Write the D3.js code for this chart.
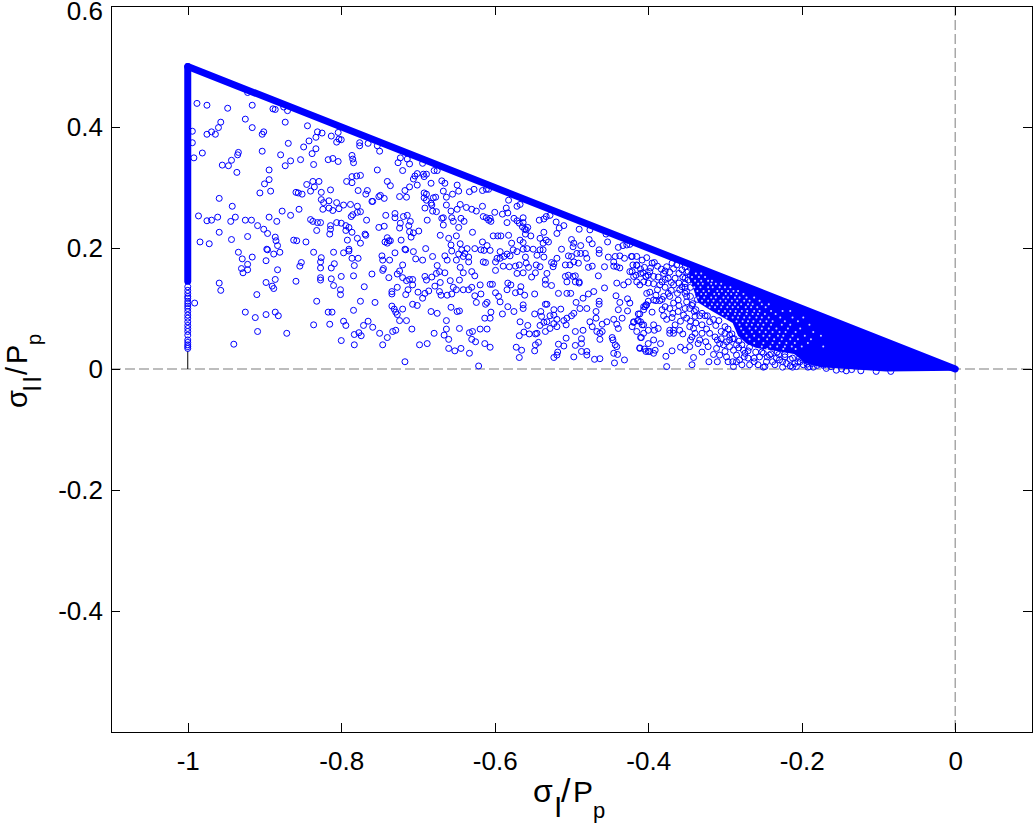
<!DOCTYPE html>
<html>
<head>
<meta charset="utf-8">
<script src="https://cdn.jsdelivr.net/npm/d3@7"></script>
<style>
	html, body { margin: 0; padding: 0; background: #fff; }
	svg { display: block; }
	text { font-family: "Liberation Sans", Arial, sans-serif; fill: #000; }
	.axis path, .axis line { stroke: #000; stroke-width: 1; shape-rendering: crispEdges; }
	.axis text { font-size: 26px; }
</style>
</head>
<body>
<div id="chart"></div>
<script>
var xTicks = [-1, -0.8, -0.6, -0.4, -0.2, 0];
var yTicks = [0.6, 0.4, 0.2, 0, -0.2, -0.4];

// the two edges where the markers pile up into a solid band
var edgeTop = [[-1, 0.5], [0, 0]];
var edgeLeft = [[-1, 0.5], [-1, 0.145]];
var stemLeft = [[-1, 0.03], [-1, 0]];

// markers along sigma_I = -1, lower end
var leftColumn = [0.136, 0.13, 0.125, 0.12, 0.117, 0.112, 0.108, 0.104, 0.100, 0.095, 0.089, 0.084, 0.078, 0.072, 0.067, 0.062, 0.056, 0.048, 0.044, 0.040, 0.037, 0.034];

// outline of the saturated area near the tip
var solidArea = [[-0.345, 0.1725], [0.002, 0], [0, -0.003], [-0.09, -0.004], [-0.15, 0.001], [-0.175, 0.003], [-0.195, 0.01], [-0.21, 0.025], [-0.235, 0.03], [-0.26, 0.035], [-0.272, 0.042], [-0.283, 0.055], [-0.29, 0.076], [-0.32, 0.098], [-0.335, 0.11], [-0.342, 0.135], [-0.347, 0.15]];

var leftPoints = [
	[-.988,.439],[-.975,.436],[-.948,.431],[-.916,.436],[-.889,.430],[-.886,.429],[-.875,.433],[-.870,.427],[-.922,.457],[-.925,.413],
	[-.957,.408],[-.960,.399],[-.969,.392],[-.975,.388],[-.964,.388],[-.994,.393],[-.994,.374],[-.916,.399],[-.901,.392],[-.903,.388],
	[-.873,.408],[-.844,.402],[-.831,.392],[-.825,.390],[-.833,.383],[-.842,.377],[-.869,.373],[-.849,.367],[-.833,.364],[-.838,.356],
	[-.903,.360],[-.879,.354],[-.866,.344],[-.853,.346],[-.873,.336],[-.836,.338],[-.817,.346],[-.811,.348],[-.804,.343],[-.813,.385],
	[-.804,.391],[-.803,.380],[-.806,.375],[-.800,.379],[-.776,.374],[-.776,.369],[-.765,.373],[-.753,.369],[-.750,.360],[-.786,.353],
	[-.785,.347],[-.784,.341],[-.753,.329],[-.723,.349],[-.714,.347],[-.726,.341],[-.711,.339],[-.720,.328],[-.701,.323],[-.704,.319],
	[-.706,.314],[-.701,.304],[-.711,.301],[-.717,.295],[-.724,.285],[-.715,.284],[-.992,.349],[-.981,.357],[-.934,.358],[-.935,.354],
	[-.943,.345],[-.955,.337],[-.947,.336],[-.936,.325],[-.894,.329],[-.894,.313],[-.900,.306],[-.906,.291],[-.892,.294],[-.959,.282],
	[-.942,.269],[-.845,.305],[-.837,.310],[-.829,.310],[-.835,.301],[-.840,.294],[-.859,.292],[-.856,.291],[-.851,.289],[-.826,.292],
	[-.814,.296],[-.793,.310],[-.786,.318],[-.786,.308],[-.780,.319],[-.775,.320],[-.778,.295],[-.766,.295],[-.768,.289],[-.760,.277],
	[-.759,.277],[-.751,.285],[-.749,.287],[-.744,.282],[-.740,.310],[-.736,.303],[-.826,.280],[-.823,.275],[-.816,.278],[-.806,.275],
	[-.824,.264],[-.816,.266],[-.811,.262],[-.803,.265],[-.797,.271],[-.788,.272],[-.779,.269],[-.775,.260],[-.779,.259],[-.785,.255],
	[-.787,.252],[-.767,.246],[-.742,.254],[-.730,.257],[-.730,.250],[-.719,.252],[-.714,.254],[-.723,.241],[-.710,.244],[-.724,.233],
	[-.712,.237],[-.711,.227],[-.706,.225],[-.699,.228],[-.709,.218],[-.986,.253],[-.975,.245],[-.969,.246],[-.961,.251],[-.944,.244],
	[-.938,.251],[-.925,.246],[-.917,.246],[-.909,.237],[-.901,.231],[-.896,.224],[-.894,.251],[-.884,.244],[-.877,.261],[-.866,.254],
	[-.855,.264],[-.840,.247],[-.837,.244],[-.831,.242],[-.827,.242],[-.832,.229],[-.814,.237],[-.814,.231],[-.815,.223],[-.806,.242],
	[-.800,.241],[-.794,.237],[-.790,.234],[-.794,.229],[-.786,.226],[-.779,.216],[-.775,.208],[-.769,.223],[-.768,.221],[-.792,.213],
	[-.751,.234],[-.744,.236],[-.959,.226],[-.922,.219],[-.943,.214],[-.984,.210],[-.972,.207],[-.886,.218],[-.885,.212],[-.883,.204],
	[-.862,.213],[-.858,.212],[-.846,.210],[-.934,.193],[-.929,.182],[-.916,.185],[-.922,.173],[-.930,.166],[-.922,.164],[-.928,.159],
	[-.898,.179],[-.897,.198],[-.896,.197],[-.888,.190],[-.880,.193],[-.836,.193],[-.826,.184],[-.827,.177],[-.827,.167],[-.810,.193],
	[-.797,.192],[-.790,.198],[-.790,.195],[-.786,.183],[-.778,.183],[-.783,.171],[-.813,.167],[-.809,.174],[-.852,.176],[-.854,.170],
	[-.883,.164],[-.743,.210],[-.738,.212],[-.740,.217],[-.736,.212],[-.740,.208],[-.722,.213],[-.717,.198],[-.716,.197],[-.706,.194],
	[-.703,.182],[-.730,.192],[-.747,.187],[-.746,.180],[-.737,.180],[-.720,.172],[-.745,.166],[-.746,.163],[-.760,.157],[-.738,.151],
	[-.784,.154],[-.800,.153],[-.724,.162],[-.727,.157],[-.720,.151],[-.715,.146],[-.711,.148],[-.707,.148],[-.707,.139],[-.713,.131],
	[-.716,.123],[-.727,.135],[-.734,.128],[-.734,.124],[-.700,.127],[-.770,.136],[-.813,.149],[-.827,.151],[-.827,.147],[-.810,.138],
	[-.801,.131],[-.801,.123],[-.859,.145],[-.898,.143],[-.886,.148],[-.890,.137],[-.888,.133],[-.910,.123],[-.959,.142],[-.957,.130],
	[-.991,.109],[-.925,.094],[-.912,.085],[-.898,.090],[-.886,.094],[-.882,.088],[-.832,.112],[-.817,.094],[-.812,.094],[-.784,.097],
	[-.775,.112],[-.756,.110],[-.734,.104],[-.731,.099],[-.729,.094],[-.727,.090],[-.720,.099],[-.707,.107],[-.701,.105],[-.836,.073],
	[-.815,.074],[-.797,.079],[-.794,.072],[-.771,.072],[-.765,.079],[-.759,.069],[-.750,.059],[-.740,.052],[-.733,.062],[-.729,.064],
	[-.724,.080],[-.715,.080],[-.708,.066],[-.783,.057],[-.777,.060],[-.774,.055],[-.800,.047],[-.783,.040],[-.746,.040],[-.698,.040],
	[-.717,.012],[-.871,.059],[-.909,.062],[-.940,.041]
];

var midPoints = [
	[-.694,.340],[-.679,.328],[-.675,.328],[-.693,.322],[-.689,.322],[-.692,.318],[-.683,.307],[-.669,.311],[-.665,.307],[-.649,.304],
	[-.667,.294],[-.647,.294],[-.655,.289],[-.663,.284],[-.627,.297],[-.633,.293],[-.616,.295],[-.611,.297],[-.608,.297],[-.692,.291],
	[-.689,.289],[-.692,.283],[-.689,.279],[-.683,.274],[-.680,.283],[-.677,.284],[-.682,.271],[-.691,.266],[-.681,.261],[-.676,.260],
	[-.663,.271],[-.657,.261],[-.645,.272],[-.649,.264],[-.637,.267],[-.630,.264],[-.624,.261],[-.656,.250],[-.667,.250],[-.669,.249],
	[-.667,.238],[-.654,.244],[-.644,.249],[-.640,.244],[-.647,.234],[-.688,.246],[-.616,.269],[-.615,.252],[-.611,.250],[-.608,.246],
	[-.606,.249],[-.605,.244],[-.600,.259],[-.590,.256],[-.582,.279],[-.585,.266],[-.583,.258],[-.571,.269],[-.567,.272],[-.584,.242],
	[-.575,.249],[-.571,.245],[-.563,.250],[-.568,.241],[-.563,.242],[-.564,.235],[-.561,.231],[-.559,.230],[-.557,.234],[-.560,.223],
	[-.542,.246],[-.536,.248],[-.533,.252],[-.528,.254],[-.520,.243],[-.510,.237],[-.516,.233],[-.519,.224],[-.536,.226],[-.490,.231],
	[-.476,.230],[-.455,.223],[-.629,.226],[-.671,.221],[-.660,.216],[-.650,.220],[-.602,.220],[-.596,.220],[-.592,.220],[-.582,.221],
	[-.578,.208],[-.553,.220],[-.567,.213],[-.563,.209],[-.541,.216],[-.533,.213],[-.537,.208],[-.530,.210],[-.500,.214],[-.497,.208],
	[-.498,.202],[-.488,.204],[-.477,.214],[-.473,.207],[-.464,.197],[-.464,.191],[-.453,.210],[-.439,.201],[-.433,.204],[-.424,.206],
	[-.428,.205],[-.452,.185],[-.443,.186],[-.437,.187],[-.431,.183],[-.421,.186],[-.657,.205],[-.645,.207],[-.656,.195],[-.643,.197],
	[-.636,.199],[-.639,.191],[-.634,.185],[-.626,.199],[-.616,.210],[-.618,.197],[-.610,.204],[-.614,.196],[-.606,.196],[-.615,.177],
	[-.612,.176],[-.593,.194],[-.588,.186],[-.584,.190],[-.576,.197],[-.580,.187],[-.593,.183],[-.597,.183],[-.599,.177],[-.571,.194],
	[-.563,.198],[-.558,.199],[-.560,.185],[-.550,.198],[-.541,.197],[-.545,.188],[-.537,.197],[-.536,.185],[-.526,.176],[-.513,.198],
	[-.519,.183],[-.504,.187],[-.500,.186],[-.493,.191],[-.488,.191],[-.482,.191],[-.480,.183],[-.497,.177],[-.491,.175],[-.502,.172],
	[-.508,.172],[-.690,.199],[-.681,.186],[-.694,.180],[-.665,.187],[-.662,.180],[-.650,.180],[-.647,.190],[-.641,.186],[-.634,.177],
	[-.675,.171],[-.645,.168],[-.676,.158],[-.665,.159],[-.672,.161],[-.641,.159],[-.630,.161],[-.626,.154],[-.599,.163],[-.589,.170],
	[-.581,.169],[-.573,.170],[-.568,.172],[-.559,.175],[-.556,.168],[-.571,.158],[-.563,.159],[-.547,.159],[-.552,.152],[-.541,.169],
	[-.546,.172],[-.532,.158],[-.524,.169],[-.523,.174],[-.473,.170],[-.478,.168],[-.465,.154],[-.445,.177],[-.441,.169],[-.437,.167],
	[-.445,.170],[-.457,.169],[-.504,.155],[-.508,.153],[-.498,.153],[-.495,.154],[-.506,.144],[-.495,.144],[-.490,.144],[-.490,.142],
	[-.534,.147],[-.534,.140],[-.526,.138],[-.432,.139],[-.441,.142],[-.426,.144],[-.415,.172],[-.424,.161],[-.410,.158],[-.403,.153],
	[-.419,.153],[-.691,.153],[-.682,.152],[-.689,.147],[-.678,.137],[-.671,.143],[-.686,.129],[-.691,.125],[-.694,.117],[-.672,.128],
	[-.670,.122],[-.662,.122],[-.656,.124],[-.654,.135],[-.658,.146],[-.646,.147],[-.650,.131],[-.641,.131],[-.634,.131],[-.630,.135],
	[-.619,.139],[-.626,.121],[-.618,.124],[-.624,.110],[-.606,.140],[-.603,.140],[-.583,.142],[-.579,.139],[-.584,.131],[-.566,.136],
	[-.573,.126],[-.567,.128],[-.561,.122],[-.548,.124],[-.517,.125],[-.506,.125],[-.501,.125],[-.457,.134],[-.442,.121],[-.427,.116],
	[-.424,.109],[-.437,.110],[-.464,.112],[-.464,.107],[-.471,.128],[-.478,.124],[-.485,.117],[-.494,.110],[-.489,.100],[-.480,.100],
	[-.468,.095],[-.468,.084],[-.612,.107],[-.610,.110],[-.599,.126],[-.595,.120],[-.593,.111],[-.583,.103],[-.563,.106],[-.563,.100],
	[-.575,.095],[-.590,.091],[-.605,.094],[-.606,.084],[-.613,.084],[-.534,.107],[-.532,.107],[-.514,.099],[-.523,.098],[-.523,.089],
	[-.528,.088],[-.548,.091],[-.540,.095],[-.539,.087],[-.497,.092],[-.500,.088],[-.506,.084],[-.510,.080],[-.519,.082],[-.523,.075],
	[-.532,.078],[-.536,.077],[-.541,.072],[-.534,.062],[-.528,.067],[-.519,.070],[-.507,.073],[-.495,.062],[-.485,.064],[-.476,.078],
	[-.473,.070],[-.460,.074],[-.454,.078],[-.445,.082],[-.441,.074],[-.439,.067],[-.434,.084],[-.427,.096],[-.439,.098],[-.419,.078],
	[-.421,.070],[-.414,.080],[-.410,.078],[-.406,.073],[-.410,.052],[-.402,.106],[-.404,.103],[-.406,.098],[-.411,.091],[-.411,.034],
	[-.405,.033],[-.400,.029],[-.683,.095],[-.675,.092],[-.663,.080],[-.657,.102],[-.646,.096],[-.649,.095],[-.679,.059],[-.663,.066],
	[-.666,.056],[-.660,.049],[-.646,.067],[-.633,.060],[-.629,.062],[-.619,.066],[-.610,.066],[-.630,.049],[-.625,.045],[-.613,.042],
	[-.606,.036],[-.688,.042],[-.660,.034],[-.652,.030],[-.644,.034],[-.633,.026],[-.621,.005],[-.572,.036],[-.565,.031],[-.568,.055],
	[-.562,.061],[-.557,.072],[-.555,.058],[-.547,.058],[-.545,.059],[-.567,.078],[-.543,.044],[-.547,.040],[-.548,.030],[-.568,.019],
	[-.517,.041],[-.510,.038],[-.507,.051],[-.495,.039],[-.487,.050],[-.487,.042],[-.497,.020],[-.487,.029],[-.480,.029],[-.480,.023],
	[-.470,.016],[-.463,.017],[-.518,.028],[-.519,.023],[-.523,.019],[-.467,.062],[-.463,.059],[-.460,.062],[-.463,.049],[-.447,.052],
	[-.446,.048],[-.443,.040],[-.441,.037],[-.445,.026],[-.440,.024],[-.444,.010],[-.431,.015]
];

var densePoints = [
	[-.422,.186],[-.420,.172],[-.415,.171],[-.421,.161],[-.416,.155],[-.415,.144],[-.407,.159],[-.403,.153],[-.406,.144],[-.411,.139],
	[-.395,.175],[-.392,.176],[-.397,.167],[-.398,.161],[-.400,.155],[-.393,.153],[-.400,.142],[-.393,.141],[-.382,.144],[-.385,.139],
	[-.388,.131],[-.398,.127],[-.402,.125],[-.393,.114],[-.400,.112],[-.403,.106],[-.406,.103],[-.390,.113],[-.395,.094],[-.413,.091],
	[-.385,.113],[-.380,.120],[-.374,.125],[-.372,.120],[-.367,.109],[-.378,.103],[-.372,.100],[-.382,.098],[-.380,.088],[-.376,.082],
	[-.369,.085],[-.368,.092],[-.361,.114],[-.350,.111],[-.346,.100],[-.361,.095],[-.354,.089],[-.350,.084],[-.339,.087],[-.333,.088],
	[-.326,.088],[-.320,.078],[-.419,.077],[-.413,.080],[-.408,.073],[-.415,.062],[-.406,.059],[-.400,.064],[-.393,.073],[-.387,.067],
	[-.392,.064],[-.393,.048],[-.409,.052],[-.400,.042],[-.384,.042],[-.411,.035],[-.403,.029],[-.398,.029],[-.393,.026],[-.391,.031],
	[-.377,.021],[-.369,.030],[-.358,.036],[-.352,.031],[-.346,.037],[-.372,.064],[-.367,.064],[-.359,.064],[-.372,.059],[-.365,.073],
	[-.367,.059],[-.343,.053],[-.339,.059],[-.333,.048],[-.330,.059],[-.324,.066],[-.320,.059],[-.313,.053],[-.346,.070],[-.341,.067],
	[-.335,.042],[-.322,.037],[-.311,.034],[-.341,.019],[-.343,.007],[-.321,.012],[-.376,.004],[-.380,.158],[-.376,.169],[-.369,.175],
	[-.363,.172],[-.356,.164],[-.352,.169],[-.367,.166],[-.374,.150],[-.365,.150],[-.348,.147],[-.356,.136],[-.359,.131],[-.352,.125],
	[-.367,.139],[-.341,.142],[-.337,.150],[-.330,.158],[-.322,.147],[-.339,.161],[-.348,.161],[-.307,.023],[-.302,.040],[-.298,.020],
	[-.296,.012],[-.289,.004],[-.285,.023],[-.281,.015],[-.276,.031],[-.270,.018],[-.268,.007],[-.278,.007],[-.294,.048],[-.289,.031],
	[-.294,.037],[-.307,.042],[-.300,.059],[-.294,.056],[-.285,.040],[-.274,.026],[-.255,.020],[-.257,.007],[-.246,.012],[-.242,.023],
	[-.235,.007],[-.233,.018],[-.229,.015],[-.222,.020],[-.220,.009],[-.248,.004],[-.209,.009],[-.207,.004],[-.198,.007],[-.192,.003],
	[-.187,.009],[-.168,.001],[-.155,-.002],[-.142,-.003],[-.123,-.003],[-.103,-.004],[-.084,-.004],
	[-.415,.186],[-.408,.180],[-.402,.184],[-.388,.170],[-.383,.165],[-.378,.162],[-.372,.160],[-.360,.158],[-.355,.152],[-.345,.155],
	[-.410,.165],[-.405,.168],[-.387,.152],[-.378,.148],[-.370,.143],[-.360,.142],[-.352,.141],[-.345,.135],[-.350,.128],[-.362,.125],
	[-.370,.130],[-.378,.135],[-.390,.122],[-.382,.115],[-.360,.105],[-.352,.100],[-.342,.108],[-.336,.115],[-.345,.120],[-.335,.125],
	[-.340,.095],[-.358,.079],[-.345,.079],[-.338,.076],[-.330,.073],[-.355,.058],[-.345,.048],[-.325,.045],[-.312,.072],[-.305,.062],
	[-.330,.028],[-.315,.024],[-.31,.012],[-.285,.012],[-.262,.018],[-.25,.003],[-.225,.003],[-.215,.005],[-.205,.012],[-.195,.014],[-.18,.006],
	[-.30,.029],[-.29,.012],[-.275,.02],[-.262,.012],[-.252,.028],[-.245,.02],[-.238,.012],[-.23,.024],[-.225,.012],[-.215,.016],
	[-.212,.003],[-.203,.018],[-.193,.008],[-.185,.003],[-.178,.01],[-.172,.006],[-.162,.004],[-.148,.0],[-.135,-.001],[-.31,.048],
	[-.305,.05],[-.298,.045],[-.29,.05],[-.282,.035],[-.27,.03],
	[-.343,.105],[-.338,.098],[-.33,.092],[-.323,.088],[-.315,.082],[-.308,.08],[-.30,.07],[-.296,.066],[-.291,.058],[-.288,.05],
	[-.282,.046],[-.278,.04],[-.268,.036],[-.26,.028],[-.25,.026],[-.24,.025],[-.232,.028],[-.222,.024],[-.212,.018],[-.202,.012],
	[-.19,.004],[-.35,.12],[-.352,.135],[-.352,.15],[-.35,.16]
];

// gaps left between the markers inside the saturated area, row by row: y value, then the x values
var gapRows = [
	[.158, [-.338,-.331]],
	[.152, [-.343,-.334,-.326]],
	[.146, [-.339,-.331,-.322,-.317]],
	[.141, [-.344,-.335,-.329,-.318,-.312,-.305]],
	[.135, [-.340,-.332,-.322,-.316,-.307,-.300,-.293]],
	[.129, [-.336,-.328,-.321,-.310,-.304,-.296,-.289,-.283]],
	[.124, [-.340,-.331,-.325,-.314,-.308,-.299,-.292,-.285,-.276]],
	[.118, [-.335,-.327,-.318,-.312,-.302,-.296,-.287,-.281,-.272,-.262]],
	[.113, [-.330,-.322,-.315,-.306,-.299,-.291,-.284,-.275,-.268,-.255]],
	[.107, [-.326,-.317,-.310,-.303,-.294,-.287,-.279,-.270,-.264,-.252,-.243]],
	[.102, [-.320,-.313,-.305,-.297,-.290,-.283,-.273,-.266,-.258,-.247]],
	[.096, [-.308,-.300,-.293,-.286,-.278,-.271,-.262,-.255,-.240,-.225,-.215]],
	[.091, [-.303,-.296,-.287,-.281,-.272,-.264,-.257,-.248,-.234]],
	[.085, [-.298,-.290,-.283,-.275,-.268,-.259,-.252,-.243,-.228,-.212,-.198]],
	[.079, [-.285,-.277,-.270,-.263,-.254,-.246,-.238,-.222,-.205]],
	[.073, [-.281,-.272,-.265,-.257,-.250,-.240,-.226,-.215,-.190]],
	[.067, [-.279,-.268,-.260,-.252,-.243,-.233,-.218,-.202]],
	[.061, [-.276,-.265,-.255,-.247,-.238,-.229,-.221,-.208,-.185]],
	[.055, [-.272,-.262,-.250,-.242,-.231,-.224,-.212,-.196,-.175]],
	[.049, [-.268,-.256,-.245,-.236,-.226,-.215,-.205,-.188]],
	[.043, [-.262,-.250,-.238,-.229,-.220,-.209,-.192]],
	[.037, [-.252,-.241,-.232,-.222,-.213,-.200,-.172]],
	[.033, [-.245,-.224,-.208]]
];

var width = 1033,
	height = 825,
	margin = {left: 111, right: 1032, top: 6, bottom: 732},
	blue = "#0000ff";

var x = d3.scaleLinear().domain([-1.1, 0.1]).range([margin.left, margin.right]);
var y = d3.scaleLinear().domain([-0.6, 0.6]).range([margin.bottom, margin.top]);

var svg = d3.select("#chart").append("svg")
	.attr("width", width)
	.attr("height", height);

var line = d3.line()
	.x(function(d) { return x(d[0]); })
	.y(function(d) { return y(d[1]); });

// dashed zero lines
svg.append("line")
	.attr("x1", x(-1.1)).attr("x2", x(0.1))
	.attr("y1", y(0)).attr("y2", y(0))
	.attr("stroke", "#a8a8a8").attr("stroke-width", 1.5).attr("stroke-dasharray", "10,4");
svg.append("line")
	.attr("x1", x(0)).attr("x2", x(0))
	.attr("y1", y(0.6)).attr("y2", y(-0.6))
	.attr("stroke", "#a8a8a8").attr("stroke-width", 1.5).attr("stroke-dasharray", "10,4");

svg.append("path").attr("d", line(stemLeft)).attr("stroke", "#000").attr("fill", "none");

// axes, ticks pointing inwards on all four sides
function fmt(d) { return String(d); }
svg.append("g").attr("class", "axis")
	.attr("transform", "translate(0," + margin.bottom + ")")
	.call(d3.axisBottom(x).tickValues(xTicks).tickSize(-9).tickSizeOuter(0).tickPadding(20).tickFormat(fmt));
svg.append("g").attr("class", "axis")
	.attr("transform", "translate(0," + margin.top + ")")
	.call(d3.axisTop(x).tickValues(xTicks).tickSize(-9).tickSizeOuter(0).tickFormat(""));
var leftAxis = svg.append("g").attr("class", "axis")
	.attr("transform", "translate(" + margin.left + ",0)")
	.call(d3.axisLeft(y).tickValues(yTicks).tickSize(-9).tickSizeOuter(0).tickPadding(8).tickFormat(fmt));
// the top label sits a little below its tick so that it stays on the page
leftAxis.selectAll("text").filter(function(d) { return d === 0.6; }).attr("dy", "0.5em");
var rightAxis = svg.append("g").attr("class", "axis")
	.attr("transform", "translate(" + margin.right + ",0)")
	.call(d3.axisRight(y).tickValues(yTicks).tickSize(-9).tickSizeOuter(0).tickFormat(""));
rightAxis.select(".domain").style("stroke-width", 2);

// saturated area under the markers
svg.append("path").attr("d", line(solidArea) + "Z").attr("fill", blue);

// thick edges
svg.append("path").attr("d", line(edgeTop))
	.attr("stroke", blue).attr("stroke-width", 7).attr("stroke-linecap", "round").attr("fill", "none");
svg.append("path").attr("d", line(edgeLeft))
	.attr("stroke", blue).attr("stroke-width", 7).attr("stroke-linecap", "round").attr("fill", "none");

var points = leftPoints.concat(midPoints, densePoints,
	leftColumn.map(function(v) { return [-1, v]; }));

svg.append("g").selectAll("circle")
	.data(points)
	.enter()
	.append("circle")
	.attr("cx", function(d) { return x(d[0]); })
	.attr("cy", function(d) { return y(d[1]); })
	.attr("r", 3)
	.attr("fill", "none")
	.attr("stroke", blue)
	.attr("stroke-width", 1);

var gaps = [];
gapRows.forEach(function(row) {
	row[1].forEach(function(v) { gaps.push([v, row[0]]); });
});

svg.append("g").selectAll("circle")
	.data(gaps)
	.enter()
	.append("circle")
	.attr("cx", function(d) { return x(d[0]); })
	.attr("cy", function(d) { return y(d[1]); })
	.attr("r", 1)
	.attr("fill", "#fff")
	.attr("fill-opacity", 0.85);

// axis titles, each piece placed on its own because the subscripts sit far below the line
function piece(g, s, px, py, size) {
	g.append("text").attr("x", px).attr("y", py).attr("font-size", size).text(s);
}
var xTitle = svg.append("g");
piece(xTitle, "σ", 533, 802, 32);
piece(xTitle, "I", 554, 817, 30);
piece(xTitle, "/", 561, 802, 34);
piece(xTitle, "P", 573, 802, 30);
piece(xTitle, "p", 593, 818, 22);

var yTitle = svg.append("g").attr("transform", "translate(27,408) rotate(-90)");
piece(yTitle, "σ", 0, 0, 29);
piece(yTitle, "I", 16, 14, 26);
piece(yTitle, "I", 25, 14, 26);
piece(yTitle, "/", 33, 0, 29);
piece(yTitle, "P", 44, 0, 29);
piece(yTitle, "p", 63, 14, 20);
</script>
</body>
</html>
